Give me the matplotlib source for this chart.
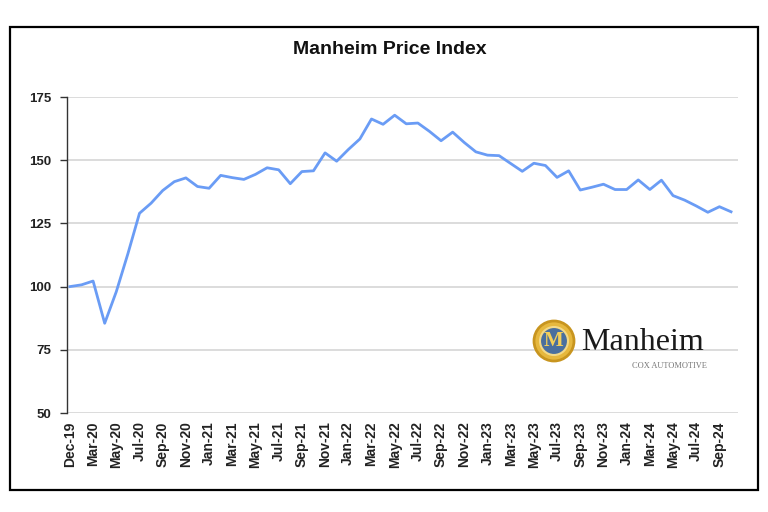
import matplotlib
matplotlib.use("Agg")
import matplotlib.pyplot as plt
from matplotlib.patches import Rectangle, Circle

plt.rcParams['font.family'] = ['Liberation Sans', 'DejaVu Sans']

# Monthly index values (Dec-19 = 100)
months = ['Dec-19', 'Jan-20', 'Mar-20', 'Apr-20', 'May-20', 'Jun-20', 'Jul-20', 'Aug-20',
          'Sep-20', 'Oct-20', 'Nov-20', 'Dec-20', 'Jan-21', 'Feb-21', 'Mar-21', 'Apr-21',
          'May-21', 'Jun-21', 'Jul-21', 'Aug-21', 'Sep-21', 'Oct-21', 'Nov-21', 'Dec-21',
          'Jan-22', 'Feb-22', 'Mar-22', 'Apr-22', 'May-22', 'Jun-22', 'Jul-22', 'Aug-22',
          'Sep-22', 'Oct-22', 'Nov-22', 'Dec-22', 'Jan-23', 'Feb-23', 'Mar-23', 'Apr-23',
          'May-23', 'Jun-23', 'Jul-23', 'Aug-23', 'Sep-23', 'Oct-23', 'Nov-23', 'Dec-23',
          'Jan-24', 'Feb-24', 'Mar-24', 'Apr-24', 'May-24', 'Jun-24', 'Jul-24', 'Aug-24',
          'Sep-24', 'Oct-24']
index_values = [100, 100.7, 102.2, 85.5, 98, 113, 129, 133, 138, 141.5, 143, 139.6,
                138.9, 144, 143.1, 142.4, 144.4, 147, 146.2, 140.7, 145.5, 145.8, 152.9,
                149.6, 154.2, 158.4, 166.3, 164.2, 167.8, 164.4, 164.7, 161.4, 157.7,
                161.1, 157, 153.3, 152, 151.8, 148.7, 145.6, 148.8, 147.9, 143.2, 145.8,
                138.2, 139.3, 140.5, 138.4, 138.4, 142.2, 138.4, 142.1, 136, 134.2,
                131.9, 129.4, 131.6, 129.6]
y_ticks = [50, 75, 100, 125, 150, 175]

W, H = 768, 512
fig = plt.figure(figsize=(W / 100, H / 100), dpi=100)

# outer frame
fig.patches.append(Rectangle((10 / W, 1 - 490 / H), 748 / W, 463 / H, transform=fig.transFigure,
                             fill=False, edgecolor='black', linewidth=1.6))

ax = fig.add_axes([67 / W, 1 - 413 / H, 671 / W, 316 / H])
x = list(range(len(months)))
ax.plot(x, index_values, color='#6a9cf5', linewidth=2.0, solid_joinstyle='round', zorder=3)

ax.set_ylim(50, 175)
ax.set_xlim(-0.25, len(months) - 0.4)
ax.set_yticks(y_ticks)
ax.set_yticklabels([str(v) for v in y_ticks], fontsize=9.5, fontweight='bold', color='#222222')
ax.set_xticks(x[::2])
ax.set_xticklabels(months[::2], rotation=90, fontsize=10, fontweight='bold', color='#222222')
ax.tick_params(axis='x', length=0, pad=6)
ax.tick_params(axis='y', length=5, width=1, color='#333333', direction='out', pad=6)
ax.grid(axis='y', color='#d6d6d6', linewidth=1.2, zorder=0)
for s in ['top', 'right', 'bottom']:
    ax.spines[s].set_visible(False)
ax.spines['left'].set_color('#333333')
ax.spines['left'].set_linewidth(1.0)

fig.text(390 / W, 1 - 49 / H, 'Manheim Price Index', ha='center', va='center',
         fontsize=14, fontweight='bold', color='#111111')

# Manheim logo
cx, cy = 554 / W, 1 - 341 / H
fig.patches.append(Circle((554, H - 341), 20, transform=None, facecolor='#e6b83e',
                          edgecolor='#c8951f', linewidth=2))
fig.patches.append(Circle((554, H - 341), 14, transform=None, facecolor='#4a6f9e',
                          edgecolor='#f3d987', linewidth=1.5))
fig.text(cx, cy, 'M', ha='center', va='center', fontsize=15, fontweight='bold',
         family='Liberation Serif', color='#f3cf5a')
fig.text(581 / W, 1 - 342 / H, 'Manheim', ha='left', va='center', fontsize=23,
         family='Liberation Serif', color='#1a1a1a')
fig.text(707 / W, 1 - 366 / H, 'COX AUTOMOTIVE', ha='right', va='center', fontsize=6,
         family='Liberation Serif', color='#777777')

fig.savefig('out.png', dpi=100)
